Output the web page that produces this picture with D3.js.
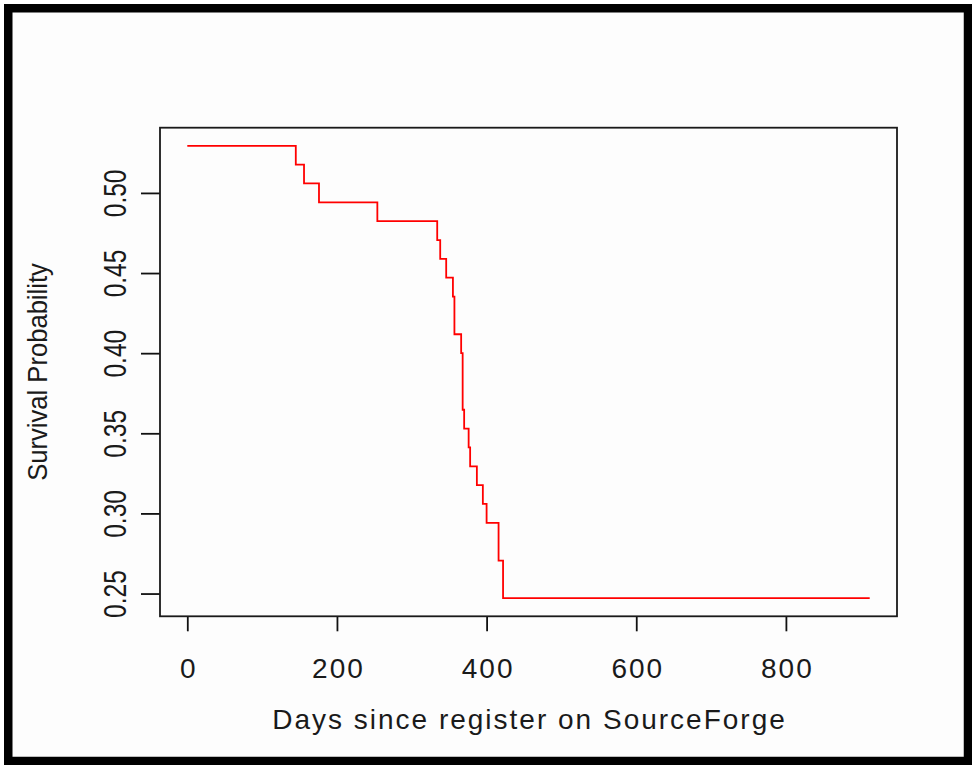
<!DOCTYPE html>
<html>
<head>
<meta charset="utf-8">
<script src="https://cdn.jsdelivr.net/npm/d3@7/dist/d3.min.js"></script>
<style>
  html, body { margin: 0; padding: 0; background: #ffffff; }
  svg { display: block; }
  text { font-family: "Liberation Sans", Arial, sans-serif; fill: #1a1a1a; }
</style>
</head>
<body>
<svg id="chart" width="972" height="765"></svg>
<script>
// Kaplan-Meier estimate: event times (days) and survival after each step
const days     = [0, 145, 156, 176, 254, 334, 338, 346, 355, 357, 366, 368, 370, 376, 378, 387, 395, 400, 416, 422, 912];
const survival = [0.5294, 0.5176, 0.5059, 0.4941, 0.4824, 0.4706, 0.4588, 0.4471, 0.4353, 0.4118, 0.4000,
                  0.3647, 0.3529, 0.3412, 0.3294, 0.3176, 0.3059, 0.2941, 0.2706, 0.2471, 0.2471];
const xTicks = [0, 200, 400, 600, 800];
const yTicks = [0.25, 0.30, 0.35, 0.40, 0.45, 0.50];
const xTitle = "Days since register on SourceForge";
const yTitle = "Survival Probability";

const plot = { left: 160, top: 127.7, right: 897, bottom: 616.3 };

// text sizing: horizontal labels, rotated tick labels, rotated title
const hFont = 28, hScale = 1.0, hSpacing = 2;
const vTickFont = 24.5, vTickScale = 1.3;
const vTitleFont = 25.6, vTitleScale = 1.1;

const svg = d3.select("#chart");

// outer frame
svg.append("rect")
  .attr("x", 8.25).attr("y", 8.25)
  .attr("width", 959.75).attr("height", 752.75)
  .attr("fill", "#fdfdfd")
  .attr("stroke", "#000").attr("stroke-width", 8.5);

// R-style 4% padding of the data range
function padded(lo, hi) { const r = hi - lo; return [lo - 0.04 * r, hi + 0.04 * r]; }

const x = d3.scaleLinear()
  .domain(padded(d3.min(days), d3.max(days)))
  .range([plot.left, plot.right]);
const y = d3.scaleLinear()
  .domain(padded(d3.min(survival), d3.max(survival)))
  .range([plot.bottom, plot.top]);

// survival curve
const line = d3.line()
  .x((d, i) => x(days[i]))
  .y((d, i) => y(survival[i]))
  .curve(d3.curveStepAfter);

svg.append("path")
  .datum(survival)
  .attr("d", line)
  .attr("fill", "none")
  .attr("stroke", "#ff0000")
  .attr("stroke-width", 1.8);

// x axis
const gx = svg.append("g")
  .attr("transform", `translate(0,${plot.bottom})`)
  .call(d3.axisBottom(x).tickValues(xTicks).tickSize(15).tickFormat(d3.format("d")));
gx.select(".domain").remove();
gx.selectAll(".tick line").attr("stroke", "#111").attr("stroke-width", 1.8);
gx.selectAll(".tick text")
  .attr("y", null).attr("dy", null)
  .attr("x", hSpacing / 2)
  .attr("text-anchor", "middle")
  .attr("font-size", hFont)
  .attr("letter-spacing", hSpacing)
  .attr("transform", `translate(0,62) scale(${hScale},1)`);

// y axis
const gy = svg.append("g")
  .attr("transform", `translate(${plot.left},0)`)
  .call(d3.axisLeft(y).tickValues(yTicks).tickSize(19).tickFormat(d3.format(".2f")));
gy.select(".domain").remove();
gy.selectAll(".tick line").attr("stroke", "#111").attr("stroke-width", 1.8);
gy.selectAll(".tick text")
  .attr("x", null).attr("dy", null)
  .attr("text-anchor", "middle")
  .attr("font-size", vTickFont)
  .attr("transform", `translate(-34,0) scale(${vTickScale},1) rotate(-90)`);

// plot box
svg.append("rect")
  .attr("x", plot.left).attr("y", plot.top)
  .attr("width", plot.right - plot.left).attr("height", plot.bottom - plot.top)
  .attr("fill", "none")
  .attr("stroke", "#1a1a1a").attr("stroke-width", 1.8);

// axis titles
svg.append("text")
  .attr("text-anchor", "middle")
  .attr("font-size", hFont)
  .attr("letter-spacing", hSpacing)
  .attr("transform", `translate(${(plot.left + plot.right) / 2 + hSpacing / 2},729) scale(${hScale},1)`)
  .text(xTitle);

svg.append("text")
  .attr("text-anchor", "middle")
  .attr("font-size", vTitleFont)
  .attr("transform", `translate(47,${(plot.top + plot.bottom) / 2}) scale(${vTitleScale},1) rotate(-90)`)
  .text(yTitle);
</script>
</body>
</html>
